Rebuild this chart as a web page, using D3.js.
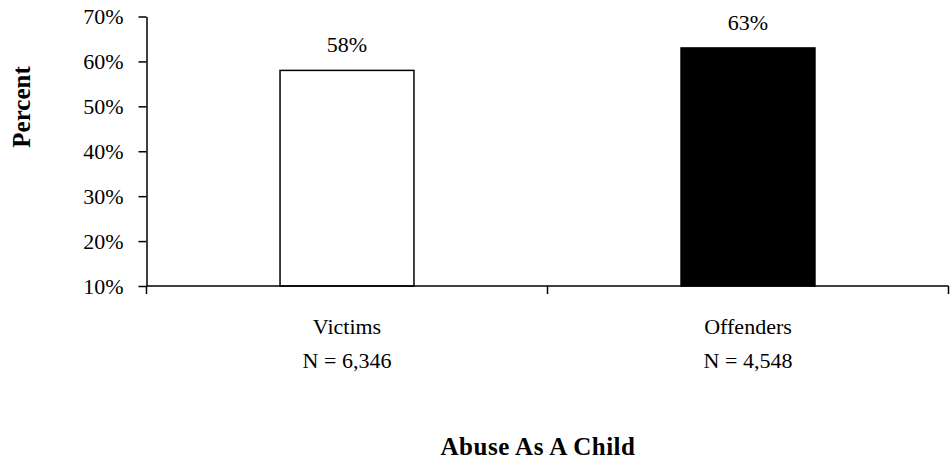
<!DOCTYPE html>
<html>
<head>
<meta charset="utf-8">
<script src="https://cdn.jsdelivr.net/npm/d3@7"></script>
<style>
  html, body { margin: 0; padding: 0; background: #fff; }
  svg { display: block; }
  svg text { font-family: "Liberation Serif", "DejaVu Serif", serif; }
</style>
</head>
<body>
<svg id="chart" width="950" height="462"></svg>
<script>
const categories = ["Victims", "Offenders"];
const sampleLabels = ["N = 6,346", "N = 4,548"];
const values = [58, 63];
const barFills = ["#ffffff", "#000000"];
const yTicks = [10, 20, 30, 40, 50, 60, 70];
const yTitle = "Percent";
const xTitle = "Abuse As A Child";

const svg = d3.select("#chart");
const plotLeft = 146.5, plotRight = 948.5, plotTop = 16.5, plotBottom = 286;

const x = d3.scaleBand().domain(categories).range([plotLeft, plotRight])
  .paddingInner(0.666).paddingOuter(0.333);
const y = d3.scaleLinear().domain([10, 70]).range([plotBottom, plotTop]);

// bars
svg.append("g").selectAll("rect").data(categories).join("rect")
  .attr("x", d => x(d))
  .attr("y", (d, i) => y(values[i]))
  .attr("width", x.bandwidth())
  .attr("height", (d, i) => y(10) - y(values[i]))
  .attr("fill", (d, i) => barFills[i])
  .attr("stroke", "#000")
  .attr("stroke-width", 1.5);

// value labels
svg.append("g").selectAll("text").data(categories).join("text")
  .attr("x", d => x(d) + x.bandwidth() / 2)
  .attr("y", (d, i) => y(values[i]) - 18)
  .attr("text-anchor", "middle")
  .attr("font-size", 22)
  .attr("fill", "#000")
  .text((d, i) => values[i] + "%");

// y axis
const yAxis = d3.axisLeft(y).tickValues(yTicks).tickFormat(d => d + "%")
  .tickSize(8).tickSizeOuter(0).tickPadding(15);
const gy = svg.append("g").attr("transform", `translate(${plotLeft},0)`).call(yAxis)
  .attr("font-family", null);
gy.select(".domain").attr("stroke", "#000").attr("stroke-width", 1.5);
gy.selectAll(".tick line").attr("stroke", "#000").attr("stroke-width", 1.5);
gy.selectAll(".tick text").attr("font-size", 22).attr("fill", "#000");

// x axis line
svg.append("line").attr("x1", plotLeft).attr("x2", plotRight).attr("y1", plotBottom).attr("y2", plotBottom)
  .attr("stroke", "#000").attr("stroke-width", 1.5);
const gap = (x.step() - x.bandwidth()) / 2;
const bounds = categories.map(d => x(d) - gap).concat([x(categories[categories.length - 1]) + x.bandwidth() + gap]);
svg.append("g").selectAll("line").data(bounds).join("line")
  .attr("x1", d => d).attr("x2", d => d)
  .attr("y1", plotBottom).attr("y2", plotBottom + 8)
  .attr("stroke", "#000").attr("stroke-width", 1.5);

// category labels
const cl = svg.append("g").selectAll("text").data(categories).join("text")
  .attr("text-anchor", "middle")
  .attr("font-size", 22)
  .attr("fill", "#000");
cl.append("tspan").attr("x", d => x(d) + x.bandwidth() / 2).attr("y", 334).text(d => d);
cl.append("tspan").attr("x", d => x(d) + x.bandwidth() / 2).attr("y", 368).text((d, i) => sampleLabels[i]);

// axis titles
svg.append("text")
  .attr("transform", "translate(30,107) rotate(-90)")
  .attr("text-anchor", "middle")
  .attr("font-size", 25).attr("font-weight", "bold").attr("fill", "#000")
  .text(yTitle);
svg.append("text")
  .attr("x", 538).attr("y", 455)
  .attr("text-anchor", "middle")
  .attr("font-size", 25).attr("font-weight", "bold").attr("fill", "#000")
  .attr("letter-spacing", 0.5)
  .text(xTitle);
</script>
</body>
</html>
